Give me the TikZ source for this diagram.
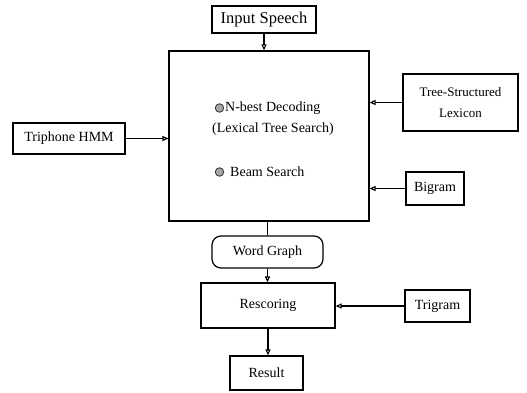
\documentclass[tikz,border=0pt]{standalone}
\usepackage{fontspec}
\setmainfont{Liberation Serif}
\usetikzlibrary{positioning,arrows.meta,calc}

\begin{document}
\begin{tikzpicture}[x=1pt,y=-1pt,
  every node/.style={font=\fontsize{14}{17}\selectfont},
  blk/.style={draw,line width=1.2pt,inner sep=0pt,align=center},
  arr/.style={-{Triangle[open,length=6pt,width=5pt]},line width=1.1pt},
  dot/.style={circle,draw=black!80,line width=0.8pt,fill=gray!70,inner sep=0pt,minimum size=8.5pt}]
  \useasboundingbox (0,0) rectangle (527,393);
  \node[blk,minimum width=104pt,minimum height=27pt,font=\fontsize{16.5}{18}\selectfont] (speech) at (264,19.5) {Input Speech};
  \node[blk,minimum width=200pt,minimum height=170pt] (decoder) at (269,136) {};
  \node[blk,minimum width=115pt,minimum height=57pt,font=\fontsize{13}{21}\selectfont] (lexicon) at (460.5,102.5) {Tree-Structured\\Lexicon};
  \node[blk,minimum width=58pt,minimum height=33pt] (bigram) at (435,188.5) {Bigram};
  \node[blk,minimum width=112pt,minimum height=31pt] (hmm) at (69,138.5) {Triphone HMM};
  \node[blk,rounded corners=9pt,minimum width=111pt,minimum height=32pt] (graph) at (267.5,252) {Word Graph};
  \node[blk,minimum width=134pt,minimum height=45pt] (rescore) at (268,305.5) {Rescoring};
  \node[blk,minimum width=65pt,minimum height=32pt] (trigram) at (437.5,306) {Trigram};
  \node[blk,minimum width=73pt,minimum height=34pt] (result) at (266.5,373) {Result};
  % decoder contents
  \node[dot] (dot1) at (219.5,108) {};
  \node[anchor=west,inner sep=0pt] (nbest) at (225,108) {N-best Decoding};
  \node[anchor=west,inner sep=0pt] (treesearch) at (212,129) {(Lexical Tree Search)};
  \node[dot] (dot2) at (219.5,172) {};
  \node[anchor=west,inner sep=0pt] (beam) at (230,172) {Beam Search};
  % connectors
  \draw[arr] (speech.south) -- (speech.south |- decoder.north);
  \draw[arr] (lexicon.west) -- (lexicon.west -| decoder.east);
  \draw[arr] (bigram.west) -- (bigram.west -| decoder.east);
  \draw[arr] (hmm.east) -- (hmm.east -| decoder.west);
  \draw[line width=1.1pt] (graph.north) -- (graph.north |- decoder.south);
  \draw[arr] (graph.south) -- (graph.south |- rescore.north);
  \draw[arr] (trigram.west) -- (trigram.west -| rescore.east);
  \draw[arr] (rescore.south) -- (rescore.south |- result.north);
\end{tikzpicture}
\end{document}
